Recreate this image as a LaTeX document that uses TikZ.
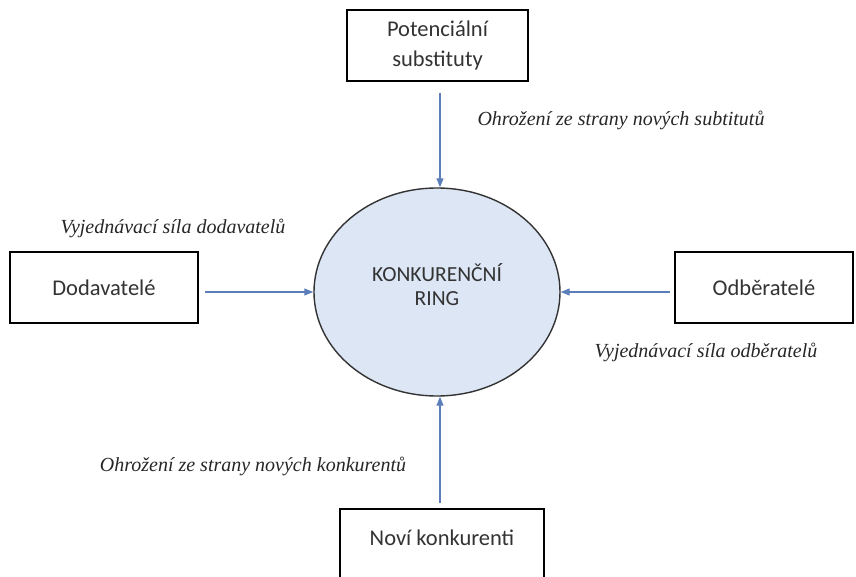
\documentclass[tikz,border=0pt]{standalone}
\usepackage{fontspec}
\setmainfont{Carlito}
\newfontfamily\labfont{Liberation Serif}
\usetikzlibrary{arrows.meta,shapes.geometric}
\definecolor{arrowblue}{HTML}{5B7DB8}
\definecolor{ringfill}{HTML}{DCE6F4}
\tikzset{
  boxnode/.style={draw=black,line width=2.2pt,fill=white,inner sep=0pt,align=center,font=\fontsize{22.5}{30}\selectfont,text=black!80},
  force/.style={draw=arrowblue,line width=1.1pt,-{Triangle[length=9pt,width=7pt]}},
  lab/.style={font=\labfont\itshape\fontsize{20}{24}\selectfont,text=black!85,inner sep=0pt}
}
\begin{document}
\begin{tikzpicture}[x=1pt,y=-1pt]
\useasboundingbox (0,0) rectangle (856,577);
\node[ellipse,draw=black!80,line width=1.4pt,fill=ringfill,minimum width=246pt,minimum height=208pt,inner sep=0pt] (ring) at (437,292) {};
\node[align=center,font=\fontsize{21.5}{24}\selectfont,text=black!80] (ringt) at (437,285) {KONKURENČNÍ\\RING};
\node[boxnode,minimum width=181pt,minimum height=71pt] (sub) at (437.5,45.5) {Potenciální\\substituty};
\node[boxnode,minimum width=188pt,minimum height=71pt] (dod) at (104,287.5) {Dodavatelé};
\node[boxnode,minimum width=178pt,minimum height=71pt] (odb) at (764,287.5) {Odběratelé};
\node[boxnode,minimum width=204pt,minimum height=90pt] (nov) at (442,554) {};
\node[font=\fontsize{22.5}{30}\selectfont,text=black!80] (novt) at (442,538) {Noví konkurenti};
\coordinate (subA) at (440,93);
\coordinate (dodA) at (205,292);
\coordinate (odbA) at (670,292);
\coordinate (novA) at (440,503);
\draw[force] (subA) -- (subA |- ring.north);
\draw[force] (dodA) -- (ring.west |- dodA);
\draw[force] (odbA) -- (ring.east |- odbA);
\draw[force] (novA) -- (novA |- ring.south);
\node[lab] (l1) at (621,120) {Ohrožení ze strany nových subtitutů};
\node[lab] (l2) at (173,228) {Vyjednávací síla dodavatelů};
\node[lab] (l3) at (706,352) {Vyjednávací síla odběratelů};
\node[lab] (l4) at (253,466) {Ohrožení ze strany nových konkurentů};
\end{tikzpicture}
\end{document}
